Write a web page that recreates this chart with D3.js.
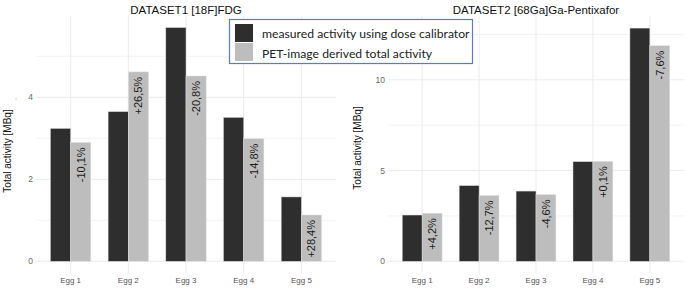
<!DOCTYPE html>
<html lang="en">
<head>
  <meta charset="UTF-8">
  <title>Egg phantom activity</title>
  <style>
      body { margin: 0; background: white; }
      svg { display: block; font-family: "Liberation Sans", Arial, sans-serif; }
  </style>
</head>
<body>
<div id="chart"></div>
<script src="https://d3js.org/d3.v7.min.js"></script>
<script>
  const eggs = ["Egg 1", "Egg 2", "Egg 3", "Egg 4", "Egg 5"];

  // DATASET1 [18F]FDG
  const fdgMeasured = [3.24, 3.65, 5.70, 3.51, 1.57];
  const fdgPet = [2.90, 4.62, 4.52, 2.99, 1.13];
  const fdgDiff = ["-10,1%", "+26,5%", "-20,8%", "-14,8%", "+28,4%"];
  const fdgTicks = [0, 2, 4];
  const fdgGrid = [0, 1, 2, 3, 4, 5];

  // DATASET2 [68Ga]Ga-Pentixafor
  const pxMeasured = [2.55, 4.17, 3.87, 5.49, 12.85];
  const pxPet = [2.65, 3.63, 3.68, 5.51, 11.88];
  const pxDiff = ["+4,2%", "-12,7%", "-4,6%", "+0,1%", "-7,6%"];
  const pxTicks = [0, 5, 10];
  const pxGrid = [0, 2.5, 5, 7.5, 10, 12.5];

  const legendLabels = ["measured activity using dose calibrator", "PET-image derived total activity"];

  const width = 685;
  const height = 288;
  const darkColor = "#2e2e2e";
  const lightColor = "#bdbdbd";

  const svg = d3.select("#chart").append("svg")
    .attr("width", width)
    .attr("height", height);

  function drawPanel(p) {
    const g = svg.append("g");

    const x = d3.scalePoint()
      .domain(eggs)
      .range([p.left, p.right])
      .padding(0.6);

    const y = d3.scaleLinear()
      .domain([0, p.yMax])
      .range([p.zeroY, p.topY]);

    const bw = x.step() * 0.35;

    // grid
    g.selectAll(".hgrid")
      .data(p.grid)
      .enter()
      .append("line")
      .attr("x1", p.left)
      .attr("x2", p.right)
      .attr("y1", d => y(d))
      .attr("y2", d => y(d))
      .attr("stroke", "#ececec")
      .attr("stroke-width", d => p.ticks.includes(d) ? 1 : 0.7);

    g.selectAll(".vgrid")
      .data(eggs)
      .enter()
      .append("line")
      .attr("x1", d => x(d))
      .attr("x2", d => x(d))
      .attr("y1", p.zeroY + 12)
      .attr("y2", p.panelTop)
      .attr("stroke", "#ececec")
      .attr("stroke-width", 1);

    // bars
    g.selectAll(".dark")
      .data(p.measured)
      .enter()
      .append("rect")
      .attr("x", (d, i) => x(eggs[i]) - bw)
      .attr("y", d => y(d))
      .attr("width", bw)
      .attr("height", d => y(0) - y(d))
      .attr("fill", darkColor)
      .attr("stroke", "#d8d8d8")
      .attr("stroke-width", 0.5);

    g.selectAll(".light")
      .data(p.pet)
      .enter()
      .append("rect")
      .attr("x", (d, i) => x(eggs[i]))
      .attr("y", d => y(d))
      .attr("width", bw)
      .attr("height", d => y(0) - y(d))
      .attr("fill", lightColor)
      .attr("stroke", "#e4e4e4")
      .attr("stroke-width", 0.5);

    // percentage labels inside the light bars
    g.selectAll(".pct")
      .data(p.pet)
      .enter()
      .append("text")
      .attr("transform", (d, i) => `translate(${x(eggs[i]) + bw / 2 + 4},${y(d) + 5}) rotate(-90)`)
      .attr("text-anchor", "end")
      .style("font-size", "11px")
      .style("fill", "#1a1a1a")
      .text((d, i) => p.diff[i]);

    // y tick labels
    g.selectAll(".ytick")
      .data(p.ticks)
      .enter()
      .append("text")
      .attr("x", p.left - 3)
      .attr("y", d => y(d))
      .attr("dy", "0.35em")
      .attr("text-anchor", "end")
      .style("font-size", "8.5px")
      .style("fill", "#6b6b6b")
      .text(d => d);

    // x tick labels
    g.selectAll(".xtick")
      .data(eggs)
      .enter()
      .append("text")
      .attr("x", d => x(d))
      .attr("y", 283)
      .attr("text-anchor", "middle")
      .style("font-size", "8px")
      .style("fill", "#555")
      .text(d => d);

    // axis title
    g.append("text")
      .attr("transform", `translate(${p.titleX},${p.titleY}) rotate(-90)`)
      .attr("text-anchor", "middle")
      .style("font-size", "10px")
      .style("fill", "#111")
      .text("Total activity [MBq]");

    // panel title
    g.append("text")
      .attr("x", x(eggs[2]))
      .attr("y", 14)
      .attr("text-anchor", "middle")
      .style("font-size", "11.5px")
      .style("fill", "#111")
      .text(p.title);
  }

  drawPanel({
    title: "DATASET1 [18F]FDG",
    measured: fdgMeasured, pet: fdgPet, diff: fdgDiff,
    ticks: fdgTicks, grid: fdgGrid, yMax: 6,
    left: 36, right: 336, zeroY: 261.3, topY: 15.3, panelTop: 16,
    titleX: 11, titleY: 151
  });

  drawPanel({
    title: "DATASET2 [68Ga]Ga-Pentixafor",
    measured: pxMeasured, pet: pxPet, diff: pxDiff,
    ticks: pxTicks, grid: pxGrid, yMax: 13.5,
    left: 388, right: 684, zeroY: 261.3, topY: 16.3, panelTop: 16,
    titleX: 361, titleY: 148
  });

  // stray mark left of the first panel
  svg.append("text")
    .attr("x", 15)
    .attr("y", 99)
    .style("font-size", "7px")
    .style("fill", "#999")
    .text(",");

  // legend box overlaid on the panels
  const legend = svg.append("g");
  legend.append("rect")
    .attr("x", 229.5)
    .attr("y", 19.5)
    .attr("width", 243)
    .attr("height", 44)
    .attr("fill", "white")
    .attr("stroke", "#5b7cc0")
    .attr("stroke-width", 1.2);

  legend.selectAll(".sw")
    .data([darkColor, lightColor])
    .enter()
    .append("rect")
    .attr("x", 235)
    .attr("y", (d, i) => 24 + i * 19)
    .attr("width", 18)
    .attr("height", 18)
    .attr("fill", d => d);

  legend.selectAll(".lt")
    .data(legendLabels)
    .enter()
    .append("text")
    .attr("x", 262)
    .attr("y", (d, i) => 37.5 + i * 20.5)
    .style("font-family", "Lato, 'Open Sans', sans-serif")
    .style("font-size", "12.2px")
    .style("fill", "#222")
    .text(d => d);
</script>
</body>
</html>
